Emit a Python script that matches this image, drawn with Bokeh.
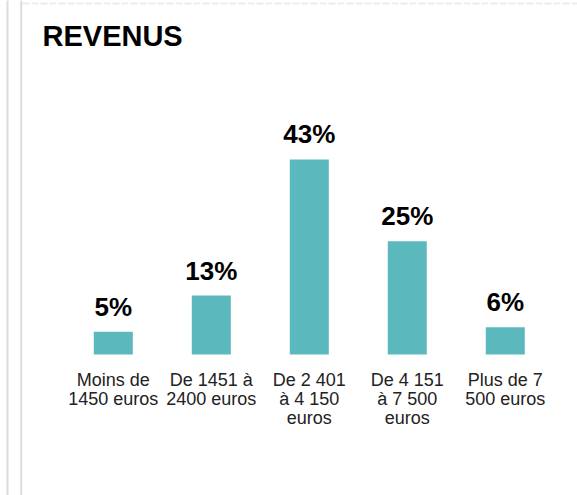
from bokeh.plotting import figure
from bokeh.models import Range1d, ColumnDataSource, Label, Arrow
from bokeh.core.properties import value
from bokeh.embed import file_html
from bokeh.resources import INLINE

# ---- data ----
title_text = "REVENUS"
categories = [
    "Moins de\n1450 euros",
    "De 1451 à\n2400 euros",
    "De 2 401\nà 4 150\neuros",
    "De 4 151\nà 7 500\neuros",
    "Plus de 7\n500 euros",
]
shares = [5, 13, 43, 25, 6]
share_labels = [f"{v}%" for v in shares]

W, H = 577, 495
positions = list(range(len(categories)))
zeros = [0] * len(categories)

src = ColumnDataSource(dict(x=positions, top=shares, lab=share_labels,
                            cat=categories, zero=zeros))

p = figure(width=W, height=H, output_backend="svg", toolbar_location=None,
           x_axis_location=None, y_axis_location=None,
           x_range=Range1d(-1.151, 4.737), y_range=Range1d(-31.09, 78.06),
           min_border=0)
p.outline_line_color = None
p.grid.visible = False
p.background_fill_color = "white"
p.border_fill_color = "white"

# page decoration lines
for xs in (7, 20.7):
    p.add_layout(Arrow(end=None, x_start=xs, y_start=-5, x_end=xs, y_end=H + 5,
                       start_units="screen", end_units="screen",
                       line_color="#dcdcdc", line_width=2))
p.add_layout(Arrow(end=None, x_start=22, y_start=H - 3, x_end=W + 5, y_end=H - 3,
                   start_units="screen", end_units="screen",
                   line_color="#ececec", line_width=2, line_dash="7 2"))

p.vbar(x="x", top="top", bottom=0, width=0.398, source=src,
       fill_color="#5bb9be", line_color=None)

p.text(x="x", y="top", text="lab", source=src, y_offset=-25,
       text_align="center", text_baseline="alphabetic",
       text_font=value("Liberation Sans"), text_font_style="bold",
       text_font_size="26px", text_color="#000000")

p.text(x="x", y="zero", text="cat", source=src, y_offset=15,
       text_align="center", text_baseline="top", text_line_height=0.97,
       text_font=value("Liberation Sans"), text_font_size="18px",
       text_color="#222222")

p.add_layout(Label(x=42, y=H - 35.7, x_units="screen", y_units="screen",
                   text=title_text, text_baseline="alphabetic",
                   text_font="Liberation Sans", text_font_style="bold",
                   text_font_size="29px", text_color="#000000"))

open("out.html", "w").write(file_html(p, INLINE))
